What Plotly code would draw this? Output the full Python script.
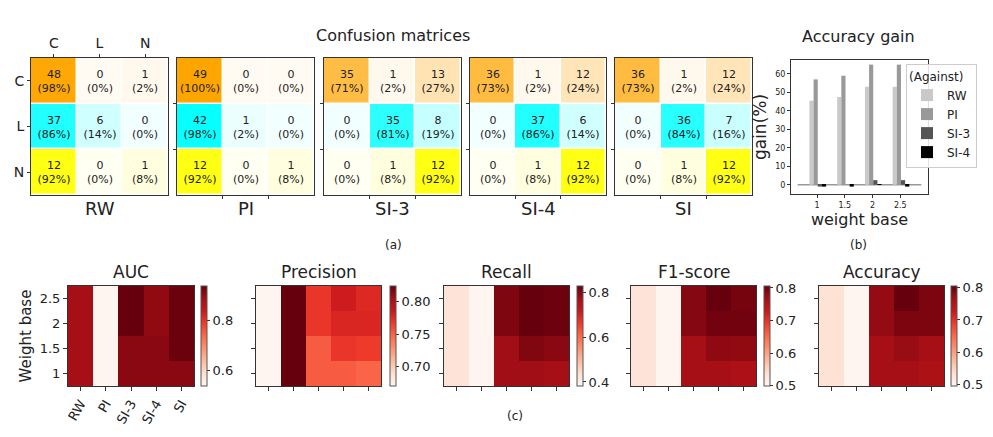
import plotly.graph_objects as go

# ---- data ----
classes = ["C", "L", "N"]
cm_names = ["RW", "PI", "SI-3", "SI-4", "SI"]
cm_rw = [[48, 0, 1], [37, 6, 0], [12, 0, 1]]
cm_pi = [[49, 0, 0], [42, 1, 0], [12, 0, 1]]
cm_si3 = [[35, 1, 13], [0, 35, 8], [0, 1, 12]]
cm_si4 = [[36, 1, 12], [0, 37, 6], [0, 1, 12]]
cm_si = [[36, 1, 12], [0, 36, 7], [0, 1, 12]]

weight_base_num = [1, 1.5, 2, 2.5]
gain_rw = [45.5, 47.5, 53, 53]
gain_pi = [57, 59, 65, 65]
gain_si3 = [-1, 0, 2.5, 2.5]
gain_si4 = [-1, -1, 0.3, -1]

methods = ["RW", "PI", "SI-3", "SI-4", "SI"]
weight_bases = ["1", "1.5", "2", "2.5"]
# rows: weight base 1, 1.5, 2, 2.5 ; cols: RW, PI, SI-3, SI-4, SI
auc = [[0.886, 0.536, 0.908, 0.908, 0.908],
       [0.886, 0.536, 0.908, 0.908, 0.932],
       [0.886, 0.536, 0.936, 0.902, 0.932],
       [0.886, 0.536, 0.936, 0.902, 0.932]]
precision = [[0.670, 0.824, 0.753, 0.753, 0.749],
             [0.670, 0.824, 0.753, 0.769, 0.767],
             [0.670, 0.824, 0.769, 0.778, 0.778],
             [0.670, 0.824, 0.769, 0.784, 0.776]]
recall = [[0.427, 0.382, 0.778, 0.778, 0.775],
          [0.427, 0.382, 0.778, 0.808, 0.800],
          [0.427, 0.382, 0.810, 0.831, 0.826],
          [0.427, 0.382, 0.810, 0.831, 0.826]]
f1 = [[0.530, 0.499, 0.767, 0.767, 0.760],
      [0.530, 0.499, 0.767, 0.782, 0.780],
      [0.530, 0.499, 0.788, 0.800, 0.800],
      [0.530, 0.499, 0.788, 0.806, 0.797]]
accuracy = [[0.530, 0.494, 0.766, 0.767, 0.760],
            [0.530, 0.494, 0.766, 0.775, 0.767],
            [0.530, 0.494, 0.778, 0.793, 0.793],
            [0.530, 0.494, 0.778, 0.806, 0.793]]
metric_names = ["AUC", "Precision", "Recall", "F1-score", "Accuracy"]

W, H = 993, 437
FONT = "DejaVu Sans"
LINE = "#333"


def fx(p):
    return p / W


def fy(p):
    return 1 - p / H


row_rgb = [(255, 165, 0), (0, 255, 255), (255, 255, 0)]


def blend(rgb, a):
    return "rgb(%d,%d,%d)" % tuple(round(255 + (c - 255) * a) for c in rgb)


# one colorscale with a band per row (orange / cyan / yellow)
cm_scale = []
for k, rgb in enumerate(row_rgb):
    cm_scale.append([k / 3, blend(rgb, 0.05)])
    cm_scale.append([(k + 1) / 3, blend(rgb, 1.0)])

fig = go.Figure()
layout = {}

cms = [cm_rw, cm_pi, cm_si3, cm_si4, cm_si]
cm_x = [(23, 160), (169, 306), (316, 453), (462, 598), (607, 744)]
cm_y = (50, 187)
for i, cm in enumerate(cms):
    n = i + 1
    z, txt = [], []
    for k, row in enumerate(cm):
        tot = sum(row)
        z.append([k + 0.001 + 0.998 * v / tot for v in row])
        txt.append(["%d<br>(%d%%)" % (v, round(100 * v / tot)) for v in row])
    fig.add_trace(go.Heatmap(
        z=z, x=[0, 1, 2], y=[0, 1, 2], text=txt, texttemplate="%{text}",
        textfont=dict(size=11, color="#222", family=FONT),
        colorscale=cm_scale, zmin=0, zmax=3, showscale=False,
        xgap=1.5, ygap=1.5, xaxis="x%d" % n, yaxis="y%d" % n, hoverinfo="skip"))
    xa = dict(domain=[fx(cm_x[i][0]), fx(cm_x[i][1])], range=[-0.5, 2.5],
              anchor="y%d" % n, showline=True, mirror=True, linecolor=LINE,
              linewidth=1, showgrid=False, zeroline=False, ticks="outside",
              ticklen=3, tickcolor=LINE)
    ya = dict(domain=[fy(cm_y[1]), fy(cm_y[0])], range=[2.5, -0.5],
              anchor="x%d" % n, showline=True, mirror=True, linecolor=LINE,
              linewidth=1, showgrid=False, zeroline=False, ticks="outside",
              ticklen=3, tickcolor=LINE)
    if i == 0:
        xa.update(side="top", tickvals=[0, 1, 2], ticktext=classes,
                  tickfont=dict(size=14))
        ya.update(tickvals=[0, 1, 2], ticktext=classes, tickfont=dict(size=14))
    else:
        xa.update(tickvals=[0.5, 1.5], showticklabels=False)
        ya.update(tickvals=[0.5, 1.5], showticklabels=False)
    layout["xaxis%d" % n] = xa
    layout["yaxis%d" % n] = ya

# ---- accuracy gain bars ----
bar_series = [("RW", gain_rw, "#c9c9c9"), ("PI", gain_pi, "#999999"),
              ("SI-3", gain_si3, "#555555"), ("SI-4", gain_si4, "#000000")]
bw = 0.075
for j, (name, vals, col) in enumerate(bar_series):
    fig.add_trace(go.Bar(
        x=weight_base_num, y=vals, name=name, width=bw,
        offset=-0.1375 + j * bw, marker=dict(color=col, line=dict(width=0)),
        xaxis="x6", yaxis="y6"))
layout["xaxis6"] = dict(domain=[fx(783), fx(920)], range=[0.53, 3.0], anchor="y6",
                        tickvals=weight_base_num, ticktext=["1", "1.5", "2", "2.5"],
                        tickfont=dict(size=8), showline=True, mirror=True,
                        linecolor=LINE, showgrid=False, zeroline=False,
                        ticks="outside", ticklen=3, tickcolor=LINE,
                        title=dict(text="weight base", font=dict(size=16), standoff=2))
layout["yaxis6"] = dict(domain=[fy(186), fy(52)], range=[-5, 67.5], anchor="x6",
                        dtick=10, tickfont=dict(size=8), showline=True, mirror=True,
                        linecolor=LINE, showgrid=False, zeroline=False,
                        ticks="outside", ticklen=3, tickcolor=LINE,
                        title=dict(text="gain(%)", font=dict(size=17), standoff=4))

# ---- metric heatmaps ----
metrics = [auc, precision, recall, f1, accuracy]
hm_x = [(60, 186), (248, 373), (436, 561), (623, 748), (811, 936)]
cb_x = [193, 382, 569, 756, 943]
cb_dtick = [0.2, 0.05, 0.2, 0.1, 0.1]
cb_fmt = [".1f", ".2f", ".1f", ".1f", ".1f"]
hm_y = (278, 378)
for i, m in enumerate(metrics):
    n = 7 + i
    fig.add_trace(go.Heatmap(
        z=m, x=methods, y=weight_bases, colorscale="Reds",
        xaxis="x%d" % n, yaxis="y%d" % n, hoverinfo="skip",
        colorbar=dict(x=fx(cb_x[i]), xanchor="left", y=fy(sum(hm_y) / 2),
                      yanchor="middle", len=(hm_y[1] - hm_y[0]) / H, lenmode="fraction",
                      thickness=6, thicknessmode="pixels", xpad=0, ypad=0,
                      outlinewidth=1, outlinecolor="#555", ticks="outside",
                      ticklen=3, tickcolor=LINE, dtick=cb_dtick[i],
                      tickformat=cb_fmt[i], tickfont=dict(size=13))))
    xa = dict(domain=[fx(hm_x[i][0]), fx(hm_x[i][1])], anchor="y%d" % n,
              showline=True, mirror=True, linecolor=LINE, showgrid=False,
              zeroline=False, ticks="outside", ticklen=4, tickcolor=LINE)
    ya = dict(domain=[fy(hm_y[1]), fy(hm_y[0])], anchor="x%d" % n,
              showline=True, mirror=True, linecolor=LINE, showgrid=False,
              zeroline=False, ticks="outside", ticklen=4, tickcolor=LINE)
    if i == 0:
        xa.update(tickangle=-60, tickfont=dict(size=13))
        ya.update(tickfont=dict(size=13),
                  title=dict(text="Weight base", font=dict(size=15), standoff=4))
    else:
        xa.update(showticklabels=False)
        ya.update(showticklabels=False)
    layout["xaxis%d" % n] = xa
    layout["yaxis%d" % n] = ya

# ---- text labels ----
ann = []


def label(text, x, y, size):
    ann.append(dict(text=text, x=fx(x), y=fy(y), xref="paper", yref="paper",
                    showarrow=False, xanchor="center", yanchor="middle",
                    font=dict(size=size)))


for i, name in enumerate(cm_names):
    label(name, sum(cm_x[i]) / 2, 200, 18)
for i, name in enumerate(metric_names):
    label(name, sum(hm_x[i]) / 2, 264, 17)
label("Confusion matrices", 385, 27, 16)
label("Accuracy gain", 850, 28, 16)
label("(a)", 385, 237, 12)
label("(b)", 850, 237, 12)
label("(c)", 507, 408, 12)

fig.update_layout(
    **layout,
    width=W, height=H,
    margin=dict(l=0, r=0, t=0, b=0, autoexpand=False),
    paper_bgcolor="white", plot_bgcolor="white",
    font=dict(family=FONT, color="#222", size=12),
    barmode="overlay",
    showlegend=True,
    legend=dict(x=fx(898), y=fy(56), xanchor="left", yanchor="top",
                bgcolor="rgba(255,255,255,0.85)", bordercolor="#ccc", borderwidth=1,
                font=dict(size=12), title=dict(text="(Against)", font=dict(size=12)),
                itemwidth=30, tracegroupgap=2),
    annotations=ann,
    shapes=[dict(type="line", xref="x6", yref="y6", x0=0.65, x1=2.88, y0=0, y1=0,
                 line=dict(color="#999", width=1.5), layer="below")],
)

fig.write_html("out.html")
